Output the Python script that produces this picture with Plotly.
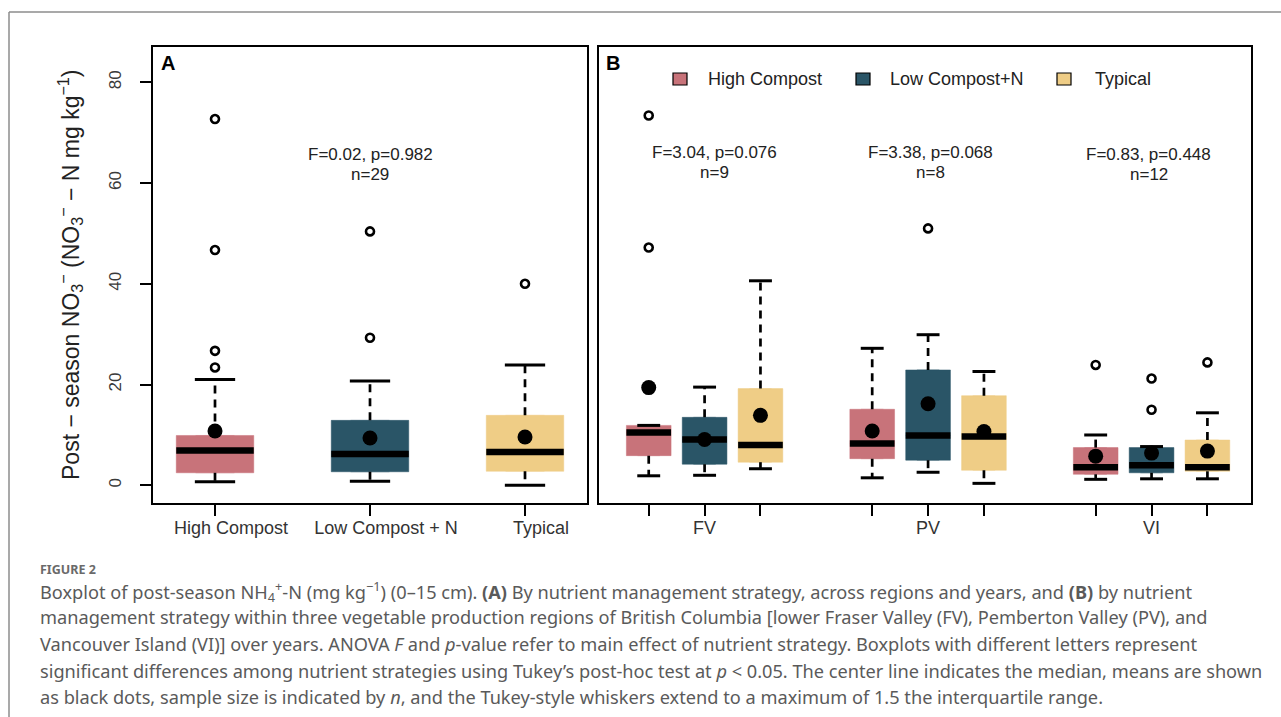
import plotly.graph_objects as go

W, H = 1281, 717


def PX(px):
    return px / W


def PY(py):
    return 1 - py / H


# ---------------- data ----------------
strategies = ["High Compost", "Low Compost + N", "Typical"]
legend_labels = ["High Compost", "Low Compost+N", "Typical"]
colors = ["#C8737A", "#2A5567", "#EFCD86"]

# Panel A: by strategy, across regions and years
a_q1 = [2.5, 2.7, 2.8]
a_med = [6.9, 6.2, 6.6]
a_q3 = [9.9, 12.9, 13.9]
a_lo = [0.7, 0.8, 0.0]
a_hi = [21.0, 20.7, 23.9]
a_mean = [10.8, 9.4, 9.6]
a_out = [[72.7, 46.7, 26.7, 23.4], [50.4, 29.3], [40.0]]
a_stat = "F=0.02, p=0.982"
a_n = "n=29"

# Panel B: by strategy within region (rows = region, cols = strategy)
regions = ["FV", "PV", "VI"]
b_q1 = [[5.9, 4.2, 4.6], [5.3, 5.0, 3.0], [2.2, 2.5, 2.8]]
b_med = [[10.5, 9.1, 8.0], [8.3, 9.9, 9.7], [3.6, 4.0, 3.6]]
b_q3 = [[11.9, 13.5, 19.2], [15.1, 22.9, 17.8], [7.5, 7.5, 9.0]]
b_lo = [[1.9, 2.0, 3.3], [1.5, 2.6, 0.4], [1.2, 1.3, 1.3]]
b_hi = [[11.9, 19.5, 40.6], [27.2, 29.9, 22.6], [10.0, 7.7, 14.4]]
b_mean = [[19.4, 9.1, 13.9], [10.8, 16.2, 10.7], [5.8, 6.4, 6.8]]
b_out = [[[73.4, 47.2], [], []],
         [[], [51.0], []],
         [[23.9], [21.2, 15.0], [24.4]]]
b_stat = ["F=3.04, p=0.076", "F=3.38, p=0.068", "F=0.83, p=0.448"]
b_n = ["n=9", "n=8", "n=12"]

y_ticks = [0, 20, 40, 60, 80]

# ---------------- styling constants ----------------
FONT = "Liberation Sans"
YRANGE = [-3.5, 87.0]
A_BOXW, A_CAPW = 0.5, 0.26
B_BOXW, B_CAPW = 0.8, 0.41
WH_W = 2.7
MED_W = 6.5
CAP_W = 3
MEAN_SIZE = 15
OUT_SIZE = 8

fig = go.Figure()


def add_panel(positions, q1, med, q3, lo, hi, mean, outs, cols, boxw, capw, xa, ya):
    # box bodies
    for p, a, m, b, c in zip(positions, q1, med, q3, cols):
        fig.add_trace(go.Box(
            x=[p], q1=[a], median=[m], q3=[b], lowerfence=[a], upperfence=[b],
            width=boxw, fillcolor=c, line=dict(color=c, width=0.5),
            boxpoints=False, hoverinfo="skip", showlegend=False,
            xaxis=xa, yaxis=ya))
    # dashed whiskers
    wx, wy = [], []
    for p, a, b, l, h in zip(positions, q1, q3, lo, hi):
        wx += [p, p, None, p, p, None]
        wy += [b, h, None, a, l, None]
    fig.add_trace(go.Scatter(x=wx, y=wy, mode="lines",
                             line=dict(color="black", width=WH_W, dash="8px,6px"),
                             hoverinfo="skip", showlegend=False, xaxis=xa, yaxis=ya))
    # caps
    cx, cy = [], []
    for p, l, h in zip(positions, lo, hi):
        cx += [p - capw / 2, p + capw / 2, None, p - capw / 2, p + capw / 2, None]
        cy += [h, h, None, l, l, None]
    fig.add_trace(go.Scatter(x=cx, y=cy, mode="lines",
                             line=dict(color="black", width=CAP_W),
                             hoverinfo="skip", showlegend=False, xaxis=xa, yaxis=ya))
    # medians
    mx, my = [], []
    for p, m in zip(positions, med):
        mx += [p - boxw / 2, p + boxw / 2, None]
        my += [m, m, None]
    fig.add_trace(go.Scatter(x=mx, y=my, mode="lines",
                             line=dict(color="black", width=MED_W),
                             hoverinfo="skip", showlegend=False, xaxis=xa, yaxis=ya))
    # means
    fig.add_trace(go.Scatter(x=positions, y=mean, mode="markers",
                             marker=dict(color="black", size=MEAN_SIZE, symbol="circle"),
                             hoverinfo="skip", showlegend=False, xaxis=xa, yaxis=ya))
    # outliers
    ox, oy = [], []
    for p, o in zip(positions, outs):
        ox += [p] * len(o)
        oy += list(o)
    fig.add_trace(go.Scatter(x=ox, y=oy, mode="markers",
                             marker=dict(color="white", size=OUT_SIZE, symbol="circle",
                                         line=dict(color="black", width=2.6)),
                             hoverinfo="skip", showlegend=False, xaxis=xa, yaxis=ya))


# Panel A
a_pos = [i + 1 for i in range(len(strategies))]
add_panel(a_pos, a_q1, a_med, a_q3, a_lo, a_hi, a_mean, a_out, colors,
          A_BOXW, A_CAPW, "x", "y")

# Panel B
b_pos, bq1, bmed, bq3, blo, bhi, bmean, bout, bcol = [], [], [], [], [], [], [], [], []
for r in range(len(regions)):
    for s in range(len(strategies)):
        b_pos.append(4 * r + s + 1)
        bq1.append(b_q1[r][s]); bmed.append(b_med[r][s]); bq3.append(b_q3[r][s])
        blo.append(b_lo[r][s]); bhi.append(b_hi[r][s]); bmean.append(b_mean[r][s])
        bout.append(b_out[r][s]); bcol.append(colors[s])
add_panel(b_pos, bq1, bmed, bq3, blo, bhi, bmean, bout, bcol,
          B_BOXW, B_CAPW, "x2", "y2")
b_label_pos = [4 * r + 2 for r in range(len(regions))]

axis_common = dict(showline=True, mirror=True, linecolor="black", linewidth=2,
                   showgrid=False, zeroline=False, ticks="outside", ticklen=11,
                   tickwidth=1.5, tickcolor="black")

fig.update_layout(
    width=W, height=H, autosize=False,
    margin=dict(l=0, r=0, t=0, b=0),
    paper_bgcolor="white", plot_bgcolor="white",
    boxmode="overlay", showlegend=False,
    font=dict(family=FONT, color="#222222"),
    xaxis=dict(domain=[PX(153), PX(587)], range=[0.6, 3.4],
               tickvals=a_pos, ticktext=strategies,
               tickfont=dict(family=FONT, size=18, color="#333333"),
               ticklabelshift=16, ticklabelstandoff=-4,
               anchor="y", **axis_common),
    yaxis=dict(domain=[PY(503), PY(47)], range=YRANGE, tickvals=y_ticks,
               tickangle=-90, tickfont=dict(family=FONT, size=17, color="#3a3a3a"),
               ticklabelstandoff=12, anchor="x", **axis_common),
    xaxis2=dict(domain=[PX(599), PX(1251)], range=[0.11, 11.78],
                tickvals=b_pos, showticklabels=False,
                anchor="y2", **axis_common),
    yaxis2=dict(domain=[PY(503), PY(47)], range=YRANGE, anchor="x2",
                showline=True, mirror=True, linecolor="black", linewidth=2,
                showgrid=False, zeroline=False, showticklabels=False, ticks=""),
)

annotations = []
# region labels under panel B
for r in range(len(regions)):
    annotations.append(dict(x=b_label_pos[r], y=PY(528), xref="x2", yref="paper",
                            text=regions[r], showarrow=False, yanchor="middle",
                            font=dict(family=FONT, size=18, color="#333333")))
# stats text panel A
annotations.append(dict(x=2, y=65.7, xref="x", yref="y", text=a_stat, showarrow=False,
                        font=dict(family=FONT, size=17, color="#222222")))
annotations.append(dict(x=2, y=61.7, xref="x", yref="y", text=a_n, showarrow=False,
                        font=dict(family=FONT, size=17, color="#222222")))
# stats text panel B
b_stat_x = [2.18, 6.05, 9.95]
b_stat_y = [66.1, 66.1, 65.7]
for r in range(len(regions)):
    annotations.append(dict(x=b_stat_x[r], y=b_stat_y[r], xref="x2", yref="y2",
                            text=b_stat[r], showarrow=False,
                            font=dict(family=FONT, size=17, color="#222222")))
    annotations.append(dict(x=b_stat_x[r], y=b_stat_y[r] - 4.0, xref="x2", yref="y2",
                            text=b_n[r], showarrow=False,
                            font=dict(family=FONT, size=17, color="#222222")))

# panel letters
annotations.append(dict(x=PX(159), y=PY(63), xref="paper", yref="paper", text="<b>A</b>",
                        xanchor="left", yanchor="middle", showarrow=False,
                        font=dict(family=FONT, size=20, color="black")))
annotations.append(dict(x=PX(604), y=PY(63), xref="paper", yref="paper", text="<b>B</b>",
                        xanchor="left", yanchor="middle", showarrow=False,
                        font=dict(family=FONT, size=20, color="black")))

# y-axis title
annotations.append(dict(
    x=PX(70), y=PY(275), xref="paper", yref="paper", textangle=-90,
    text="Post − season NO<sub>3</sub><sup>−</sup> (NO<sub>3</sub><sup>−</sup> − N mg kg<sup>−1</sup>)",
    showarrow=False, xanchor="center", yanchor="middle",
    font=dict(family=FONT, size=23, color="#222222")))

# manual legend (panel B)
shapes = []
leg_sq_x = [680, 863, 1064]
leg_tx_x = [706, 888, 1093]
for i in range(3):
    shapes.append(dict(type="rect", xref="paper", yref="paper",
                       x0=PX(leg_sq_x[i] - 7), x1=PX(leg_sq_x[i] + 7),
                       y0=PY(85), y1=PY(73), fillcolor=colors[i],
                       line=dict(color="black", width=1.2)))
    annotations.append(dict(x=PX(leg_tx_x[i]), y=PY(79), xref="paper", yref="paper",
                            text=legend_labels[i], showarrow=False, xanchor="left",
                            yanchor="middle", font=dict(family=FONT, size=18, color="#222222")))

# outer border of the figure panel
shapes.append(dict(type="line", xref="paper", yref="paper", x0=PX(9), x1=1.0,
                   y0=PY(12), y1=PY(12), line=dict(color="#8c8c8c", width=1.5)))
shapes.append(dict(type="line", xref="paper", yref="paper", x0=PX(9), x1=PX(9),
                   y0=PY(12), y1=0, line=dict(color="#8c8c8c", width=1.5)))

# caption
CAP_FONT = "Noto Sans"
CAP_X = 38
annotations.append(dict(x=PX(CAP_X), y=PY(569), xref="paper", yref="paper",
                        text="<b>FIGURE 2</b>", showarrow=False, xanchor="left",
                        yanchor="middle", font=dict(family=CAP_FONT, size=12.5, color="#6a6a6a")))
caption_lines = [
    "Boxplot of post-season NH<sub>4</sub><sup>+</sup>-N (mg kg<sup>−1</sup>) (0–15 cm). <b>(A)</b> By nutrient management strategy, across regions and years, and <b>(B)</b> by nutrient",
    "management strategy within three vegetable production regions of British Columbia [lower Fraser Valley (FV), Pemberton Valley (PV), and",
    "Vancouver Island (VI)] over years. ANOVA <i>F</i> and <i>p</i>-value refer to main effect of nutrient strategy. Boxplots with different letters represent",
    "significant differences among nutrient strategies using Tukey’s post-hoc test at <i>p</i> &lt; 0.05. The center line indicates the median, means are shown",
    "as black dots, sample size is indicated by <i>n</i>, and the Tukey-style whiskers extend to a maximum of 1.5 the interquartile range.",
]
cap_y = [591, 617, 644, 671, 697]
for t, yy in zip(caption_lines, cap_y):
    annotations.append(dict(x=PX(CAP_X), y=PY(yy), xref="paper", yref="paper", text=t,
                            showarrow=False, xanchor="left", yanchor="middle",
                            font=dict(family=CAP_FONT, size=18.2, color="#5a5a5a")))

fig.update_layout(annotations=annotations, shapes=shapes)
fig.write_html(
    "out.html",
    config={"displayModeBar": False},
    post_script="document.body.style.margin='0px';document.body.style.padding='0px';"
                "document.body.style.overflow='hidden';",
)
